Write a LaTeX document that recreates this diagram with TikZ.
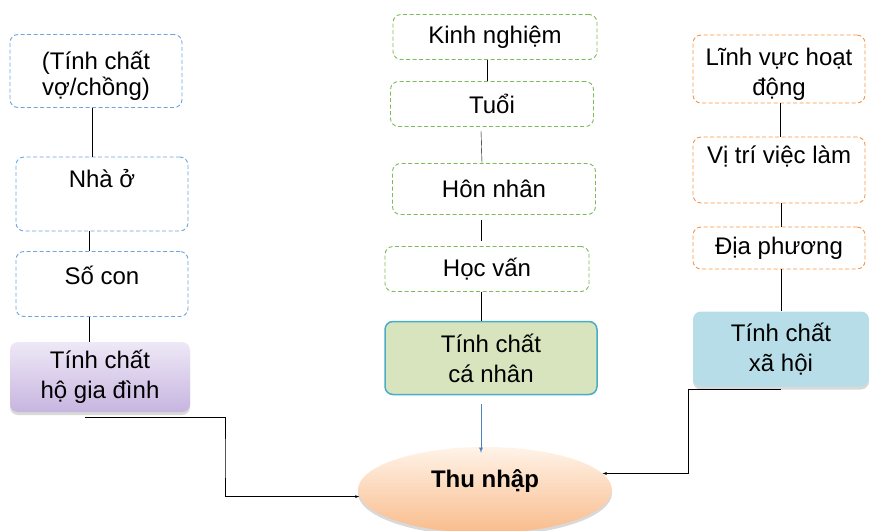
\documentclass[tikz,border=0pt]{standalone}
\usepackage{fontspec}
\setmainfont{Liberation Sans}
\usetikzlibrary{shapes.geometric,shadows}
\definecolor{dblue}{HTML}{6FA6DC}
\definecolor{dgreen}{HTML}{7DBB5A}
\definecolor{dorange}{HTML}{F79646}
\definecolor{cnfill}{HTML}{D7E4BD}
\definecolor{cnline}{HTML}{4BACC6}
\definecolor{xhfill}{HTML}{B7DEE8}
\definecolor{hotop}{HTML}{EEE8F6}
\definecolor{hobot}{HTML}{C7B5E0}
\definecolor{tntop}{HTML}{FFF3E8}
\definecolor{tnbot}{HTML}{F9BC8C}
\definecolor{arrblue}{HTML}{4F81BD}
\newcommand{\lowr}[1]{\raisebox{-5pt}[\height][\depth]{#1}}

\begin{document}
\begin{tikzpicture}[>=latex,x=1pt,y=-1pt,
    every node/.style={font=\fontsize{24}{30}\selectfont,align=center,inner sep=2pt},
    dbox/.style={draw=#1,fill=white,line width=0.9pt,dash pattern=on 4pt off 2.5pt,rounded corners=8pt},
    mainbox/.style={rounded corners=8pt,drop shadow={shadow xshift=0pt,shadow yshift=-3pt,opacity=0.3}}]
    \useasboundingbox (0,0) rectangle (869,530);
    % left column
    \node[dbox=dblue,minimum width=172pt,minimum height=73pt,font=\fontsize{24}{26}\selectfont] (vc) at (96,71) {\lowr{(Tính chất}\\\lowr{vợ/chồng)}};
    \node[dbox=dblue,minimum width=172pt,minimum height=74pt] (nha) at (102,194) {Nhà ở\\[-8pt]\strut};
    \node[dbox=dblue,minimum width=172pt,minimum height=65pt] (socon) at (102,284) {Số con\\[-22pt]\strut};
    \node[mainbox,top color=hotop,bottom color=hobot,minimum width=180pt,minimum height=70pt] (ho) at (100,377) {Tính chất\\hộ gia đình};
    % middle column
    \node[dbox=dgreen,minimum width=204pt,minimum height=45pt] (kn) at (495,37) {Kinh nghiệm};
    \node[dbox=dgreen,minimum width=203pt,minimum height=45pt] (tuoi) at (492,104) {Tuổi};
    \node[dbox=dgreen,minimum width=203pt,minimum height=51pt] (hn) at (494,189) {Hôn nhân};
    \node[dbox=dgreen,minimum width=204pt,minimum height=45pt] (hv) at (487,269) {Học vấn};
    \node[rounded corners=8pt,draw=cnline,line width=1.5pt,fill=cnfill,minimum width=212pt,minimum height=73pt] (cn) at (491,358) {Tính chất\\cá nhân};
    % right column
    \node[dbox=dorange,minimum width=172pt,minimum height=68pt] (lv) at (779,69) {\lowr{Lĩnh vực hoạt}\\\lowr{động}};
    \node[dbox=dorange,minimum width=172pt,minimum height=66pt] (vt) at (779,170) {Vị trí việc làm\\[-8pt]\strut};
    \node[dbox=dorange,minimum width=172pt,minimum height=42pt] (dp) at (779,248) {Địa phương};
    \node[mainbox,fill=xhfill,minimum width=176pt,minimum height=75pt] (xh) at (781,349) {Tính chất\\xã hội};
    % income
    \node[ellipse,top color=tntop,bottom color=tnbot,minimum width=254pt,minimum height=86pt,
        drop shadow={shadow xshift=0pt,shadow yshift=-3pt,opacity=0.3},font=\fontsize{24}{30}\selectfont\bfseries] (tn) at (485,490) {Thu nhập\\[-16pt]\strut};
    \coordinate (lk) at (225,460);
    \coordinate (rk) at (688,430);
    % links
    \draw[line width=0.9pt] (vc.south -| 92,0) -- (nha.north -| 92,0);
    \draw[line width=0.9pt] (nha.south -| 89,0) -- (socon.north -| 89,0);
    \draw[line width=0.9pt] (socon.south -| 89,0) -- (ho.north -| 89,0);
    \draw (kn.south -| 487,0) -- (tuoi.north -| 487,0);
    \draw ([yshift=-4pt]tuoi.south -| 481,0) -- (hn.north -| 482,0);
    \draw[line width=0.9pt] ([yshift=-5pt]hn.south -| 481,0) -- ([yshift=5pt]hv.north -| 481,0);
    \draw[line width=0.9pt] (hv.south -| 481,0) -- (cn.north -| 481,0);
    \draw (lv.south -| 780,0) -- (vt.north -| 780,0);
    \draw (vt.south -| 781,0) -- (dp.north -| 781,0);
    \draw[line width=0.9pt] (dp.south -| 781,0) -- (xh.north -| 781,0);
    \draw[->,arrblue,line width=0.8pt] ([yshift=-9pt]cn.south -| 481,0) -- ([yshift=-6pt]tn.north -| 481,0);
    \draw[->] ([yshift=-5pt]ho.south -| 85,0) -| (lk) |- (tn.183);
    \draw[->] ([yshift=-2pt]xh.south) -| (rk) |- (tn.8);
\end{tikzpicture}
\end{document}
